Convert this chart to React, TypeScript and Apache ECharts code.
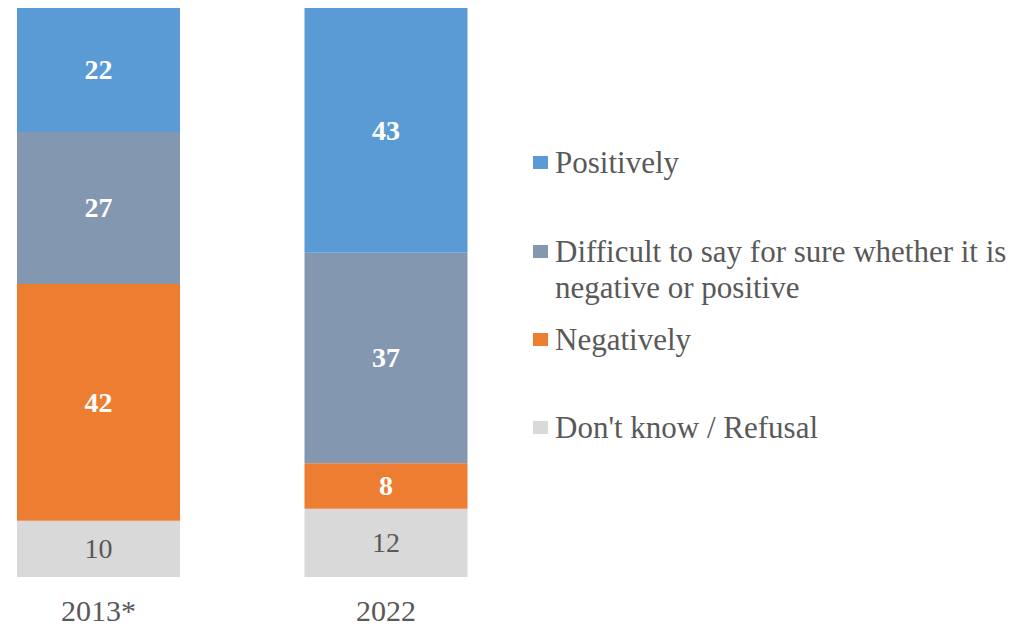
import React, { useEffect, useRef } from 'react';
import * as echarts from 'echarts';

// stacked from bottom to top
const years = ['2013*', '2022'];
const seriesNames = [
  "Don't know / Refusal",
  'Negatively',
  'Difficult to say for sure whether it is negative or positive',
  'Positively',
];
const dontKnow = [10, 12];
const negatively = [42, 8];
const difficult = [27, 37];
const positively = [22, 43];
const colors = ['#D9D9D9', '#ED7D31', '#8497B0', '#5B9BD5'];

// legend (top to bottom)
const legendOrder = [3, 2, 1, 0];
const legendTexts = [
  'Positively',
  'Difficult to say for sure whether it is\nnegative or positive',
  'Negatively',
  "Don't know / Refusal",
];
const legendY = [162, 251, 339, 427];

const FONT = '"Liberation Serif", "Times New Roman", serif';
const GREY = '#595959';

const App = () => {
  const chartRef = useRef(null);

  useEffect(() => {
    const chart = echarts.init(chartRef.current, null, { renderer: 'svg' });
    const raw = [dontKnow, negatively, difficult, positively];
    const totals = years.map((_, i) => raw.reduce((s, arr) => s + arr[i], 0));

    const series = raw.map((arr, k) => ({
      name: seriesNames[k],
      type: 'bar',
      stack: 'total',
      barWidth: 163,
      clip: false,
      data: arr.map((v, i) => ({ value: (v / totals[i]) * 100, raw: v })),
      itemStyle: { color: colors[k] },
      label: {
        show: true,
        position: 'inside',
        formatter: (p: any) => String(p.data.raw),
        fontFamily: FONT,
        fontSize: 28,
        fontWeight: k === 0 ? 'normal' : 'bold',
        color: k === 0 ? GREY : '#ffffff',
      },
    }));

    const graphic: any[] = [];
    legendOrder.forEach((k, j) => {
      graphic.push({
        type: 'rect',
        left: 533,
        top: legendY[j] - 6,
        shape: { width: 15, height: 13 },
        style: { fill: colors[k] },
      });
      graphic.push({
        type: 'text',
        left: 555,
        top: legendY[j] - 18,
        style: {
          text: legendTexts[j],
          fontFamily: FONT,
          fontSize: 31,
          lineHeight: 36,
          fill: GREY,
        },
      });
    });

    chart.setOption({
      animation: false,
      // bars sit on the axis ends (boundaryGap false), so the grid spans centre to centre
      grid: { left: 98.5, width: 287.5, top: 8, bottom: 55, containLabel: false },
      xAxis: {
        type: 'category',
        data: years,
        boundaryGap: false,
        axisLine: { show: false },
        axisTick: { show: false },
        splitLine: { show: false },
        axisLabel: { fontFamily: FONT, fontSize: 30, color: GREY, margin: 18 },
      },
      yAxis: {
        type: 'value',
        min: 0,
        max: 100,
        show: false,
        splitLine: { show: false },
      },
      series,
      graphic,
    });

    return () => {
      chart.dispose();
    };
  }, []);

  return (
    <div
      ref={chartRef}
      style={{ position: 'absolute', left: 0, top: 0, width: 1024, height: 632, background: '#fff' }}
    />
  );
};

export default App;
